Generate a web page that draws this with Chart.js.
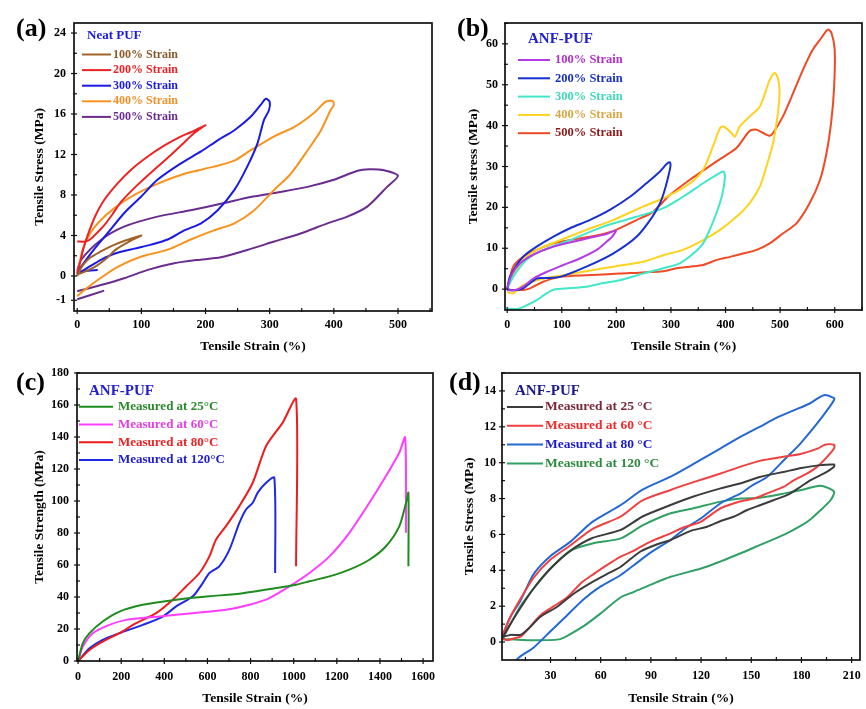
<!DOCTYPE html>
<html><head><meta charset="utf-8">
<script src="https://cdn.jsdelivr.net/npm/chart.js@4.4.1/dist/chart.umd.min.js"></script>
<style>
html,body{margin:0;padding:0;background:#fff;}
#wrap{position:relative;width:866px;height:709px;overflow:hidden;background:#fff;}
canvas{position:absolute;display:block;}
.lab{position:absolute;font-family:"Liberation Serif","Times New Roman",serif;font-weight:bold;font-size:26px;line-height:1;color:#000;white-space:nowrap;}
</style></head><body>
<div id="wrap">
<canvas id="ca" width="440" height="355" style="left:0;top:0;width:440px;height:355px"></canvas>
<canvas id="cb" width="426" height="355" style="left:440px;top:0;width:426px;height:355px"></canvas>
<canvas id="cc" width="440" height="354" style="left:0;top:355px;width:440px;height:354px"></canvas>
<canvas id="cd" width="426" height="354" style="left:440px;top:355px;width:426px;height:354px"></canvas>
<div class="lab" style="left:16px;top:15px">(a)</div>
<div class="lab" style="left:457px;top:15px">(b)</div>
<div class="lab" style="left:16px;top:369px">(c)</div>
<div class="lab" style="left:449px;top:369px">(d)</div>
</div>
<script>
// ---------- Panel (a): Neat PUF, [strain %, stress MPa] ----------
const aStrain100 = [[0,0],[8,1.0],[20,1.8],[36,2.4],[55,3.0],[75,3.5],[100,4.0],[90,3.7],[75,3.2],[60,2.6],[45,1.7],[30,1.0],[15,0.5],[3,0.2]];
const aStrain200 = [[0,0.3],[4,1.2],[10,2.8],[18,4.3],[28,5.9],[42,7.5],[63,9.15],[84,10.5],[110,11.8],[136,12.9],[162,13.8],[177,14.2],[190,14.6],[200,14.9],[195,14.7],[182,14.1],[167,13.2],[146,11.95],[120,10.5],[94,9.0],[68,7.3],[55,6.1],[42,5.0],[30,4.2],[20,3.6],[12,3.4],[0,3.4]];
const aStrain300 = [[0,0.2],[6,0.9],[26,2.6],[47,4.2],[73,6.2],[99,7.8],[125,9.5],[161,11.1],[193,12.3],[219,13.4],[245,14.4],[270,15.7],[286,16.9],[294,17.5],[300,17.2],[299,16.4],[291,15.4],[281,13.1],[265,10.8],[245,8.5],[219,6.5],[193,5.2],[167,4.5],[141,3.6],[115,3.1],[89,2.7],[58,2.2],[37,1.6],[16,0.8],[3,0.3],[12,0.5],[32,0.6]];
const aStrain400 = [[0,0],[8,2.5],[20,4.2],[35,5.4],[58,6.7],[89,8.0],[125,9.1],[167,10.1],[213,10.8],[245,11.4],[270,12.4],[307,13.8],[338,14.7],[369,16.1],[387,17.2],[398,17.3],[400,16.9],[395,16.4],[380,14.4],[359,12.4],[333,10.1],[307,8.5],[276,6.5],[245,5.2],[213,4.5],[177,3.6],[141,2.6],[99,1.9],[63,0.9],[32,-0.4],[11,-1.4],[0,-2.0]];
const aStrain500 = [[0,0.5],[6,1.6],[37,3.56],[73,4.87],[125,5.86],[177,6.5],[229,7.2],[270,7.8],[317,8.3],[359,8.8],[400,9.5],[437,10.4],[455,10.55],[478,10.45],[500,9.9],[483,8.8],[452,6.85],[421,5.86],[390,5.2],[348,4.2],[307,3.4],[265,2.57],[224,1.84],[187,1.58],[151,1.25],[110,0.6],[73,-0.23],[37,-0.9],[0,-1.5],null,[0,-2.3],[42,-1.45]];
const aXTicks = [0,100,200,300,400,500];
const aYTicks = [-2.4,0,4,8,12,16,20,24];
const aYTickLabels = ['-1','0','4','8','12','16','20','24'];

// ---------- Panel (b): ANF-PUF ----------
const bStrain100 = [[0,0],[5,2.5],[15,5.0],[30,7.0],[50,8.6],[80,10.2],[110,11.3],[150,12.5],[180,13.4],[199,14.3],[192,12.8],[182,11.6],[164,9.6],[133,7.5],[103,5.9],[72,4.2],[48,2.6],[29,0.6],[15,-0.2],[0,-0.3]];
const bStrain200 = [[0,0],[5,3.0],[29,7.9],[54,10.4],[84,12.8],[115,14.9],[151,16.9],[188,19.4],[225,22.6],[255,25.9],[280,28.8],[292,30.6],[298,31],[299,30],[295,27.5],[288,24],[280,21],[265,17.5],[237,12.8],[194,8.7],[145,5.5],[97,3.0],[70,2.7],[54,2.6],[29,0.2],[10,-0.3],[0,0]];
const bStrain300 = [[0,0],[11,3.0],[35,7.1],[66,9.6],[115,12.0],[176,15.3],[237,17.7],[286,19.8],[322,22.6],[359,25.9],[383,27.9],[396,28.8],[399,27.5],[393,22.6],[383,18.5],[371,14.5],[359,11.2],[341,8.7],[316,6.3],[286,5.1],[249,3.8],[206,2.2],[176,1.5],[145,0.6],[100,0.1],[84,-0.2],[70,-1.2],[54,-2.7],[35,-4.0],[20,-4.8],[0,-4.8]];
const bStrain400 = [[0,0],[5,2.2],[29,7.1],[54,9.6],[90,11.6],[145,14.5],[194,16.9],[249,20.2],[292,22.6],[335,25.9],[359,29.2],[377,34.9],[390,39.4],[396,39.8],[408,38.6],[417,37.3],[426,39.8],[444,42.2],[463,44.7],[481,51.2],[490,52.9],[496,51.6],[499,48.4],[496,43.1],[487,35.7],[475,30],[463,25.1],[444,21],[420,17.7],[390,14.5],[359,12.0],[322,9.6],[286,8.3],[249,6.7],[213,5.9],[176,5.1],[139,4.25],[103,3.4],[66,2.6],[29,1.0],[11,-1.06],[0,-0.7]];
const bStrain500 = [[0,0],[11,5.5],[29,7.9],[54,9.6],[84,11.2],[115,12.0],[151,12.8],[194,14.2],[237,16.9],[267,18.9],[298,23.0],[334,26.7],[383,31.2],[420,34.5],[444,38.7],[457,39.0],[469,38.2],[481,37.5],[487,38.2],[505,42.2],[524,48],[542,53.7],[560,58.6],[573,61.0],[582,62.7],[588,63.5],[594,62.7],[600,58.6],[599,49.6],[594,41.4],[585,33.3],[573,26.7],[554,21],[530,16.1],[505,13.6],[481,11.2],[457,9.6],[432,8.7],[408,7.9],[383,7.1],[359,5.9],[334,5.5],[310,5.1],[286,4.4],[206,3.8],[145,3.4],[97,3.0],[66,1.8],[42,0.2],[29,-0.2],[11,-0.2],[0,-0.2]];
const bXTicks = [0,100,200,300,400,500,600];
const bYTicks = [0,10,20,30,40,50,60];

// ---------- Panel (c): ANF-PUF, tensile tests ----------
const cTemp25 = [[0,0],[22,11.1],[53,17.4],[114,24.7],[192,30.9],[300,35.1],[455,38.3],[609,40.4],[764,42.4],[918,45.6],[1011,47.7],[1073,49.8],[1166,52.9],[1258,57.1],[1351,63.3],[1428,71.7],[1490,84.3],[1521,98.9],[1532,105.2],[1532,59.2]];
const cTemp60 = [[0,0],[22,9.0],[68,17.4],[145,22.6],[223,25.7],[377,27.8],[532,29.9],[686,32.0],[795,35.1],[887,39.3],[980,46.6],[1073,55.0],[1166,65.4],[1258,80.1],[1351,98.9],[1428,115.6],[1490,130.3],[1517,139.7],[1521,80.1]];
const cTemp80 = [[0,0],[53,6.9],[114,12.1],[192,17.4],[269,23.6],[362,29.9],[439,38.3],[501,46.6],[563,55],[609,65.4],[640,75.9],[686,84.3],[748,96.8],[810,111.4],[872,134.4],[949,149],[1011,163.7],[1011,59.2]];
const cTemp120 = [[0,0],[53,7.9],[114,13.2],[192,17.4],[300,22.6],[393,27.8],[455,34.1],[532,40.4],[578,48.7],[609,55.0],[655,59.2],[702,69.6],[748,86.3],[779,94.7],[810,98.9],[833,105.2],[872,111.4],[910,114.6],[914,55]];
const cXTicks = [0,200,400,600,800,1000,1200,1400,1600];
const cYTicks = [0,20,40,60,80,100,120,140,160,180];

// ---------- Panel (d): ANF-PUF, cyclic at temperatures ----------
const dTemp25 = [[1,0.2],[6,1.0],[12,1.9],[20,3.0],[30,4.1],[42,5.1],[55,5.8],[72,6.25],[85,7.0],[101.8,7.64],[115,8.1],[131.7,8.57],[143.7,8.85],[155,9.2],[170,9.5],[180,9.7],[190,9.85],[199.5,9.9],[199.5,9.78],[193.5,9.4],[185.5,9.03],[179.5,8.66],[171.6,8.2],[163.6,7.92],[155.6,7.64],[147.6,7.36],[139.7,7.0],[131.7,6.75],[123.7,6.43],[113.8,6.2],[101.8,5.69],[93.8,5.45],[83.8,5.05],[72,4.2],[65.9,3.9],[55.9,3.4],[44,2.71],[34,1.97],[24,1.41],[16,0.67],[12,0.4],[6,0.4],[2,0.3]];
const dTemp60 = [[1,0.3],[6,1.4],[12,2.4],[20,3.6],[30,4.6],[42,5.4],[55,6.3],[72,7.0],[85,7.9],[101.8,8.48],[115,8.9],[131.7,9.4],[143.7,9.78],[155,10.1],[170,10.34],[180,10.5],[190,10.8],[194,11.0],[199.5,11.0],[199.5,10.8],[195.5,10.34],[189.5,9.78],[183.5,9.4],[175.6,9.03],[169.6,8.66],[159.6,8.29],[151.6,8.0],[143.7,7.85],[131.7,7.46],[119.7,6.7],[109.8,6.4],[101.8,6.06],[89.8,5.6],[79.9,5.1],[72,4.76],[63.9,4.3],[55.9,3.8],[48,3.27],[40,2.5],[32,2.0],[24,1.5],[16,0.67],[12,0.3],[8,0.2],[4,0.11],[1,0.2]];
const dTemp80 = [[1,0.3],[6,1.4],[12,2.3],[20,3.8],[30,4.8],[42,5.6],[55,6.7],[72,7.64],[85,8.5],[101.8,9.22],[115,9.9],[131.7,10.8],[143.7,11.45],[155,12.0],[165,12.5],[175,12.9],[185,13.3],[190,13.6],[194,13.78],[199.5,13.6],[199.5,13.5],[195.5,12.94],[189.5,12.2],[179.5,11.08],[169.6,10.15],[159.6,9.22],[150,8.7],[143.7,8.29],[131.7,7.74],[120,6.9],[110,6.3],[101.8,5.69],[90,5.0],[80,4.3],[72,3.74],[60,3.1],[50,2.4],[40,1.5],[30,0.6],[20,-0.3],[12,-0.8],[6,-1.3]];
const dTemp120 = [[1,0.1],[6,1.0],[12,2.0],[20,3.0],[30,4.1],[42,5.1],[55,5.5],[72,5.78],[85,6.5],[101.8,7.18],[115,7.45],[131.7,7.83],[143.7,8.0],[155,8.05],[170,8.29],[180,8.48],[190,8.7],[194,8.66],[199.5,8.38],[197.5,7.92],[191.5,7.36],[185.5,6.85],[180,6.5],[170,6.0],[160,5.6],[150,5.2],[143.7,4.95],[131.7,4.5],[120,4.1],[101.8,3.64],[90,3.2],[80,2.8],[72,2.5],[60,1.6],[50,0.9],[40,0.35],[35,0.15],[20,0.1],[5,0.15],[1,0.15]];
const dXTicks = [30,60,90,120,150,180,210];
const dYTicks = [0,2,4,6,8,10,12,14];

// ---------- helpers ----------
const SERIF = '"Liberation Serif","Times New Roman",serif';
function toPts(arr){ return arr.map(p => p ? {x:p[0], y:p[1]} : {x:null, y:null}); }
function minorVals(from, max, step, majors){
  const out = [];
  for (let v = from; v <= max + 1e-9; v += step) {
    if (!majors.some(m => Math.abs(m - v) < 1e-6)) out.push(+v.toFixed(6));
  }
  return out;
}

const deco = {
  id: 'deco',
  afterDatasetsDraw(chart, args, o) {
    const {ctx, chartArea: a} = chart;
    const xs = chart.scales.x, ys = chart.scales.y;
    ctx.save();
    ctx.strokeStyle = '#111';
    ctx.lineWidth = 1.2;
    const tick = (isX, v, out, inn) => {
      const p = (isX ? xs : ys).getPixelForValue(v);
      if (isX) { if (p < a.left - 1 || p > a.right + 1) return; ctx.beginPath(); ctx.moveTo(p, a.bottom + out); ctx.lineTo(p, a.bottom - inn); ctx.stroke(); }
      else { if (p < a.top - 1 || p > a.bottom + 1) return; ctx.beginPath(); ctx.moveTo(a.left - out, p); ctx.lineTo(a.left + inn, p); ctx.stroke(); }
    };
    xs.ticks.forEach(t => tick(true, t.value, 3, 3));
    ys.ticks.forEach(t => tick(false, t.value, 3, 3));
    o.xMinor.forEach(v => tick(true, v, 1, 3));
    o.yMinor.forEach(v => tick(false, v, 1, 3));
    ctx.lineWidth = 1.7;
    ctx.strokeRect(a.left, a.top, a.right - a.left, a.bottom - a.top);
    // legend
    ctx.textBaseline = 'middle';
    ctx.textAlign = 'left';
    ctx.font = o.titleFont;
    ctx.fillStyle = o.titleColor;
    ctx.fillText(o.title, a.left + o.titleDx, a.top + o.titleDy);
    ctx.font = o.font;
    chart.data.datasets.forEach((ds, i) => {
      const y = a.top + o.rowDy + i * o.rowGap;
      ctx.strokeStyle = ds.borderColor;
      ctx.lineWidth = 2;
      ctx.beginPath(); ctx.moveTo(a.left + o.lineDx0, y); ctx.lineTo(a.left + o.lineDx1, y); ctx.stroke();
      ctx.fillStyle = ds.textColor || ds.borderColor;
      ctx.fillText(ds.label, a.left + o.textDx, y);
    });
    ctx.restore();
  }
};

function axis(c){
  return {
    type: 'linear', position: c.pos, min: c.min, max: c.max,
    afterBuildTicks: s => { s.ticks = c.ticks.map(v => ({value: v})); },
    afterFit: s => {
      if (c.pos === 'bottom') { s.height = c.size; s.paddingLeft = 0; s.paddingRight = 0; }
      else { s.width = c.size; s.paddingTop = 0; s.paddingBottom = 0; }
    },
    grid: {display: false, drawTicks: false},
    border: {display: false},
    ticks: {
      autoSkip: false, maxRotation: 0, minRotation: 0, padding: c.tickPad, color: '#000',
      font: {family: SERIF, size: 12, weight: 'bold'},
      callback: (v, i) => c.labels ? c.labels[i] : String(c.ticks[i])
    },
    title: {display: true, text: c.title, color: '#000', font: {family: SERIF, size: 13.5, weight: 'bold'},
      padding: c.pos === 'bottom' ? {top: 0, bottom: c.titlePad} : {top: c.titlePad, bottom: 0}}
  };
}

function makeChart(id, p){
  return new Chart(document.getElementById(id), {
    type: 'scatter',
    data: {datasets: p.series.map(s => ({
      label: s.label, data: toPts(s.data), borderColor: s.color, backgroundColor: s.color,
      textColor: s.text, showLine: true, pointRadius: 0, pointHoverRadius: 0, borderWidth: 2,
      tension: 0.25, fill: false, spanGaps: false
    }))},
    options: {
      responsive: false, animation: false, devicePixelRatio: 1,
      layout: {autoPadding: false, padding: p.pad},
      events: [],
      plugins: {legend: {display: false}, tooltip: {enabled: false}, deco: p.deco},
      scales: {x: axis(p.x), y: axis(p.y)}
    },
    plugins: [deco]
  });
}

// ---------- (a) ----------
makeChart('ca', {
  pad: {left: 0, top: 23, right: 8, bottom: 0},
  x: {pos: 'bottom', min: -5, max: 553, ticks: aXTicks, size: 44, tickPad: 7, title: 'Tensile Strain (%)', titlePad: 0},
  y: {pos: 'left', min: -3.46, max: 24.99, ticks: aYTicks, labels: aYTickLabels, size: 74, tickPad: 8, title: 'Tensile Stress (MPa)', titlePad: 31},
  series: [
    {label: '100% Strain', data: aStrain100, color: '#a0642a', text: '#8a5a2a'},
    {label: '200% Strain', data: aStrain200, color: '#ee2222', text: '#ee2222'},
    {label: '300% Strain', data: aStrain300, color: '#1a1ae6', text: '#1a1ae6'},
    {label: '400% Strain', data: aStrain400, color: '#f7931e', text: '#f0902a'},
    {label: '500% Strain', data: aStrain500, color: '#6a2c8e', text: '#6a2c8e'}
  ],
  deco: {xMinor: minorVals(50, 553, 100, aXTicks), yMinor: minorVals(2, 24.99, 4, aYTicks),
    title: 'Neat PUF', titleColor: '#1a1ae6', titleFont: 'bold 13px ' + SERIF, font: 'bold 12px ' + SERIF,
    titleDx: 13, titleDy: 13, lineDx0: 8, lineDx1: 37, textDx: 39, rowDy: 31.5, rowGap: 15.6}
});

// ---------- (b) ----------
makeChart('cb', {
  pad: {left: 0, top: 23, right: 4, bottom: 0},
  x: {pos: 'bottom', min: -4, max: 650, ticks: bXTicks, size: 45, tickPad: 8, title: 'Tensile Strain (%)', titlePad: 0},
  y: {pos: 'left', min: -5.1, max: 65.1, ticks: bYTicks, size: 65, tickPad: 7, title: 'Tensile stress (MPa)', titlePad: 25},
  series: [
    {label: '100% Strain', data: bStrain100, color: '#b43ce6', text: '#b030c8'},
    {label: '200% Strain', data: bStrain200, color: '#1830d0', text: '#1830c0'},
    {label: '300% Strain', data: bStrain300, color: '#40e8c8', text: '#40d8b8'},
    {label: '400% Strain', data: bStrain400, color: '#ffd21e', text: '#d8a848'},
    {label: '500% Strain', data: bStrain500, color: '#f04a24', text: '#8b1a1a'}
  ],
  deco: {xMinor: minorVals(50, 650, 100, bXTicks), yMinor: minorVals(5, 65.1, 10, bYTicks),
    title: 'ANF-PUF', titleColor: '#2020d0', titleFont: 'bold 15px ' + SERIF, font: 'bold 12.5px ' + SERIF,
    titleDx: 23, titleDy: 16, lineDx0: 13, lineDx1: 45, textDx: 50, rowDy: 37, rowGap: 18.3}
});

// ---------- (c) ----------
makeChart('cc', {
  pad: {left: 0, top: 18, right: 7, bottom: 0},
  x: {pos: 'bottom', min: -5, max: 1646, ticks: cXTicks, size: 48, tickPad: 9, title: 'Tensile Strain (%)', titlePad: 2},
  y: {pos: 'left', min: 0, max: 180, ticks: cYTicks, size: 77, tickPad: 8, title: 'Tensile Strength (MPa)', titlePad: 31},
  series: [
    {label: 'Measured at 25°C', data: cTemp25, color: '#1e8c1e', text: '#2a8a2a'},
    {label: 'Measured at 60°C', data: cTemp60, color: '#ff3cff', text: '#e040e0'},
    {label: 'Measured at 80°C', data: cTemp80, color: '#ee1c1c', text: '#ee2222'},
    {label: 'Measured at 120°C', data: cTemp120, color: '#1e28e6', text: '#2020d0'}
  ],
  deco: {xMinor: minorVals(100, 1646, 200, cXTicks), yMinor: minorVals(10, 180, 20, cYTicks),
    title: 'ANF-PUF', titleColor: '#2020d0', titleFont: 'bold 15px ' + SERIF, font: 'bold 13px ' + SERIF,
    titleDx: 12, titleDy: 18, lineDx0: 2, lineDx1: 36, textDx: 41, rowDy: 33.7, rowGap: 17.8}
});

// ---------- (d) ----------
makeChart('cd', {
  pad: {left: 0, top: 18, right: 6, bottom: 0},
  x: {pos: 'bottom', min: 1, max: 215, ticks: dXTicks, size: 49, tickPad: 9, title: 'Tensile Strain (%)', titlePad: 2},
  y: {pos: 'left', min: -1, max: 15, ticks: dYTicks, size: 62, tickPad: 6, title: 'Tensile Stress (MPa)', titlePad: 21},
  series: [
    {label: 'Measured at 25 °C', data: dTemp25, color: '#3c3c3c', text: '#7a2838'},
    {label: 'Measured at 60 °C', data: dTemp60, color: '#f04040', text: '#ee2a2a'},
    {label: 'Measured at 80 °C', data: dTemp80, color: '#2468d4', text: '#1a1ad0'},
    {label: 'Measured at 120 °C', data: dTemp120, color: '#30a064', text: '#2e8b3e'}
  ],
  deco: {xMinor: minorVals(15, 215, 30, dXTicks), yMinor: minorVals(1, 15, 2, dYTicks),
    title: 'ANF-PUF', titleColor: '#1a1a8c', titleFont: 'bold 15px ' + SERIF, font: 'bold 13.5px ' + SERIF,
    titleDx: 13, titleDy: 18, lineDx0: 5, lineDx1: 41, textDx: 43, rowDy: 34, rowGap: 18.8}
});
</script>
</body></html>
